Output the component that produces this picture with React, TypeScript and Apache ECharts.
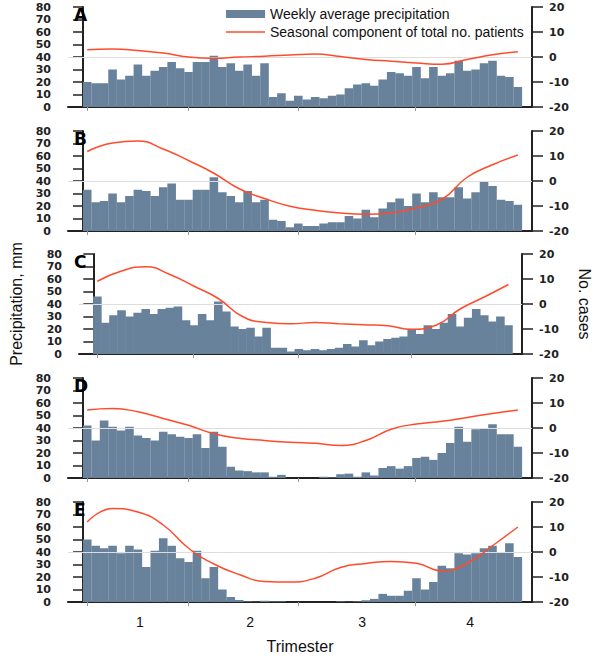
import React, { useEffect, useRef } from 'react';
import * as echarts from 'echarts';

const PANEL_LABELS = ['A', 'B', 'C', 'D', 'E'];

// Weekly average precipitation (mm), 52 weeks per panel
const precipA = [20, 19, 19, 30, 22, 25, 34, 25, 29, 32, 36, 31, 28, 36, 36, 41, 32, 35, 29, 34, 25, 35, 8, 11, 5, 9, 6, 8, 7, 9, 10, 15, 18, 19, 17, 22, 28, 27, 25, 32, 23, 32, 25, 27, 37, 29, 30, 35, 37, 25, 24, 16];
const precipB = [33, 23, 24, 30, 23, 28, 33, 32, 28, 35, 38, 25, 25, 33, 33, 43, 31, 28, 23, 32, 23, 25, 9, 8, 3, 6, 4, 4, 6, 7, 7, 12, 10, 17, 11, 18, 23, 26, 20, 30, 23, 31, 27, 27, 35, 26, 31, 40, 36, 25, 24, 21];
const precipC = [46, 25, 31, 35, 30, 33, 36, 32, 36, 37, 38, 27, 23, 32, 27, 42, 34, 22, 20, 21, 14, 21, 5, 5, 2, 4, 3, 4, 3, 4, 5, 8, 6, 11, 7, 10, 12, 13, 14, 20, 16, 23, 20, 25, 32, 22, 29, 36, 31, 26, 30, 23];
const precipD = [42, 30, 46, 41, 38, 41, 34, 32, 30, 37, 35, 33, 32, 35, 24, 37, 25, 9, 6, 5.5, 4.5, 4.5, 1, 2.5, 0, 0, 0, 0, 1, 0.5, 3, 3.5, 1, 4.5, 2, 8, 9.5, 7.5, 9.5, 16, 17, 14.5, 20, 28, 41, 29, 39, 40, 43, 35, 35, 25];
const precipE = [50, 45, 43, 45, 39, 45, 42, 28, 41, 51, 45, 35, 32, 41, 19, 28, 10, 4, 1.6, 0.5, 0.3, 1, 0.5, 0.5, 0, 0, 0, 0, 0, 0, 0.5, 0.2, 0.5, 1.4, 2.5, 6.5, 5, 5, 9, 19, 10, 16, 29, 27, 39, 38, 39, 43, 45, 40, 47, 36];

// Seasonal component of total no. patients, read at these week positions
const LINE_WEEKS = [0.5, 3.5, 6.5, 9.5, 12.5, 15.5, 18.5, 21.5, 24.5, 27.5, 30.5, 33.5, 36.5, 39.5, 42.5, 45.5, 48.5, 51.5];
const seasonalA = [2.9, 3.2, 2.6, 1.6, 0, -0.5, 0, 0.3, 0.8, 1.2, 0.2, -1, -1.7, -2.4, -2.9, -1, 0.9, 2.1];
const seasonalB = [11.8, 15.2, 16, 12.8, 8.2, 3.1, -3.1, -7, -10.1, -11.7, -12.8, -13.3, -12.8, -10.7, -7.4, 1.5, 6.5, 10.4];
const seasonalC = [9.1, 13.2, 14.9, 11.8, 7.1, 2.2, -5, -7.4, -7.9, -7.4, -7.9, -8.3, -8.7, -10.1, -8.5, -2, 2.8, 7.8];
const seasonalD = [7.2, 7.8, 6.5, 3.8, 1.1, -2.3, -4.1, -5, -5.7, -6.1, -7, -5, -0.5, 1.6, 2.7, 4.2, 5.8, 7.2];
const seasonalE = [12, 17.4, 16, 10.8, 1.5, -4.8, -9, -11.8, -12, -10.5, -6.2, -4.6, -3.8, -4.5, -7.6, -4.5, 2.5, 10];

const PRECIP = [precipA, precipB, precipC, precipD, precipE];
const SEASONAL = [seasonalA, seasonalB, seasonalC, seasonalD, seasonalE];

const TRIMESTER_LABELS = ['1', '2', '3', '4'];
const TRIMESTER_LABEL_POS = [6.75, 19.8, 33.05, 45.85];
const TRIMESTER_TICK_POS = [0.47, 12.44, 25.47, 39.4];

const BAR_NAME = 'Weekly average precipitation';
const LINE_NAME = 'Seasonal component of total no. patients';

const GRID_TOPS = [7, 131, 254, 378, 502];
const BAR_COLOR = '#68829b';
const LINE_COLOR = '#ff4b2b';
const AXIS_COLOR = '#222';
const FONT = 'Liberation Sans, Arial, sans-serif';
const TICK_FONT = 'DejaVu Sans, sans-serif';

export default function App() {
  const ref = useRef<HTMLDivElement>(null);

  useEffect(() => {
    document.body.style.margin = '0';
    if (!ref.current) return;
    const chart = echarts.init(ref.current, undefined, { renderer: 'svg' });

    const grids = GRID_TOPS.map((top) => ({ left: 68, right: 68, top, height: 100, containLabel: false }));

    const xAxes = GRID_TOPS.map((_, i) => ({
      type: 'value',
      gridIndex: i,
      min: -1.777,
      max: 53.18,
      axisLine: { show: true, onZero: false, lineStyle: { color: AXIS_COLOR, width: 2 } },
      axisTick: { show: true, customValues: TRIMESTER_TICK_POS, length: 4, lineStyle: { color: '#999', width: 1 } },
      axisLabel: {
        show: i === 4,
        customValues: TRIMESTER_LABEL_POS,
        formatter: (v: number) => {
          let best = 0;
          TRIMESTER_LABEL_POS.forEach((p, k) => {
            if (Math.abs(p - v) < Math.abs(TRIMESTER_LABEL_POS[best] - v)) best = k;
          });
          return TRIMESTER_LABELS[best];
        },
        fontSize: 14,
        color: '#111',
        fontFamily: FONT,
        margin: 13,
      },
      splitLine: { show: false },
      name: i === 4 ? 'Trimester' : '',
      nameLocation: 'middle',
      nameGap: 36,
      nameTextStyle: { fontSize: 16, color: '#111', fontFamily: FONT },
    }));

    const yAxes: any[] = [];
    GRID_TOPS.forEach((_, i) => {
      yAxes.push({
        type: 'value',
        gridIndex: i,
        position: 'left',
        min: 0,
        max: 80,
        interval: 10,
        axisLine: { show: true, lineStyle: { color: AXIS_COLOR, width: 2 } },
        axisTick: { show: true, length: 10, lineStyle: { color: AXIS_COLOR, width: 1.5 } },
        axisLabel: { fontSize: 11, fontWeight: 'bold', fontFamily: TICK_FONT, color: AXIS_COLOR, margin: 17 },
        splitLine: { show: false },
        name: i === 2 ? 'Precipitation, mm' : '',
        nameLocation: 'middle',
        nameGap: 55,
        nameTextStyle: { fontSize: 16, color: '#111', fontFamily: FONT },
      });
      yAxes.push({
        type: 'value',
        gridIndex: i,
        position: 'right',
        min: -20,
        max: 20,
        interval: 10,
        axisLine: { show: true, lineStyle: { color: AXIS_COLOR, width: 2 } },
        axisTick: { show: true, length: 11, lineStyle: { color: AXIS_COLOR, width: 1.5 } },
        axisLabel: { fontSize: 11, fontWeight: 'bold', fontFamily: TICK_FONT, color: AXIS_COLOR, margin: 17 },
        splitLine: { show: false },
        name: i === 2 ? 'No. cases' : '',
        nameLocation: 'middle',
        nameGap: 54,
        nameRotate: -90,
        nameTextStyle: { fontSize: 16, color: '#111', fontFamily: FONT },
      });
    });

    const series: any[] = [];
    GRID_TOPS.forEach((_, i) => {
      series.push({
        type: 'bar',
        name: BAR_NAME,
        xAxisIndex: i,
        yAxisIndex: 2 * i,
        data: PRECIP[i].map((v, k) => [k + 0.5, v]),
        barWidth: 8.6,
        itemStyle: { color: BAR_COLOR },
        silent: true,
        z: 2,
      });
      series.push({
        type: 'line',
        name: LINE_NAME,
        xAxisIndex: i,
        yAxisIndex: 2 * i + 1,
        data: LINE_WEEKS.map((w, k) => [w, SEASONAL[i][k]]),
        smooth: 0.5,
        symbol: 'none',
        lineStyle: { color: LINE_COLOR, width: 1.5 },
        itemStyle: { color: LINE_COLOR },
        silent: true,
        z: 4,
        markLine: {
          silent: true,
          symbol: 'none',
          label: { show: false },
          lineStyle: { color: '#dddddd', type: 'solid', width: 1 },
          data: [{ yAxis: 0 }],
          z: 3,
        },
      });
    });

    chart.setOption({
      animation: false,
      textStyle: { fontFamily: FONT },
      title: PANEL_LABELS.map((t, i) => ({
        text: t,
        left: 74,
        top: GRID_TOPS[i] - 1,
        padding: 0,
        z: 10,
        textStyle: { fontSize: 17, fontWeight: 'bold', fontFamily: TICK_FONT, color: '#000' },
      })),
      legend: {
        orient: 'vertical',
        left: 226,
        top: 7,
        padding: 0,
        itemGap: 4,
        itemWidth: 39,
        itemHeight: 8,
        selectedMode: false,
        textStyle: { fontSize: 14, fontFamily: FONT, color: '#111' },
        data: [
          { name: BAR_NAME, icon: 'rect' },
          { name: LINE_NAME, icon: 'path://M0,0H39V1.5H0Z', itemStyle: { color: LINE_COLOR } },
        ],
      },
      grid: grids,
      xAxis: xAxes,
      yAxis: yAxes,
      series,
    });

    return () => chart.dispose();
  }, []);

  return <div ref={ref} style={{ width: 600, height: 658 }} />;
}
